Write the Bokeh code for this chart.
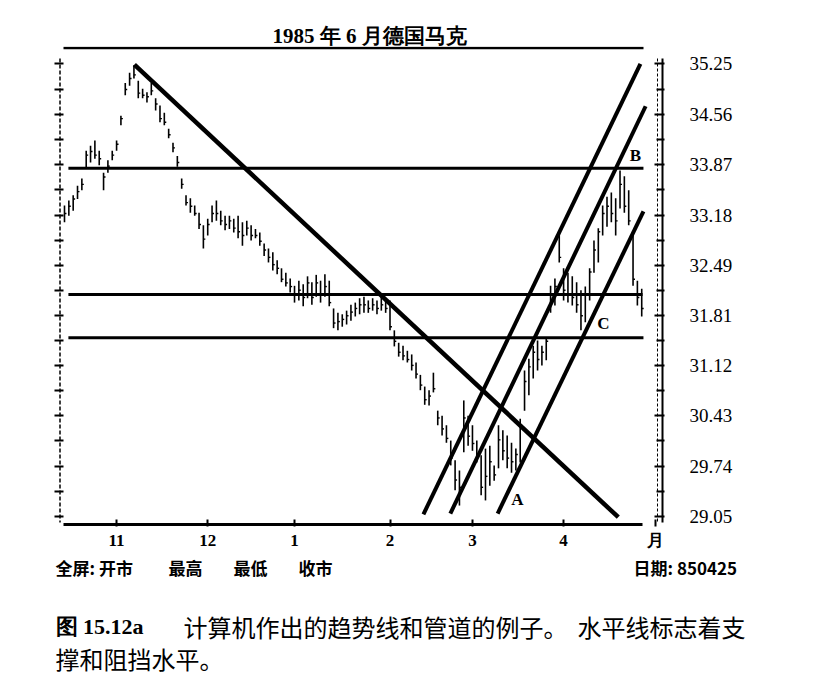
from bokeh.plotting import figure
from bokeh.models import Range1d, LinearAxis, FixedTicker
from bokeh.embed import file_html
from bokeh.resources import INLINE
from bokeh.core.properties import value

# ---------------- data ----------------
highs = [
    33.31, 33.38, 33.45, 33.58, 33.68, 34.06, 34.13, 34.20, 34.06, 33.76,
    33.93, 34.06, 34.20, 34.54, 34.99, 35.13, 35.23, 35.02, 34.91, 34.86,
    34.99, 34.78, 34.68, 34.58, 34.36, 34.17, 33.99, 33.68, 33.45, 33.41,
    33.31, 33.21, 33.04, 33.13, 33.31, 33.38, 33.24, 33.17, 33.17, 33.13,
    33.17, 33.08, 33.10, 33.04, 32.99, 32.94, 32.79, 32.72, 32.67, 32.56,
    32.45, 32.39, 32.31, 32.21, 32.28, 32.23, 32.34, 32.26, 32.36, 32.28,
    32.37, 32.28, 31.90, 31.84, 31.82, 31.87, 31.95, 31.98, 32.04, 32.06,
    32.01, 32.04, 32.01, 32.06, 32.04, 32.01, 31.60, 31.43, 31.39, 31.32,
    31.27, 31.16, 30.99, 30.83, 30.78, 31.02, 30.50, 30.43, 30.30, 30.09,
    29.82, 29.68, 30.64, 30.43, 30.30, 30.09, 29.89, 29.98, 30.02, 29.75,
    30.30, 30.23, 30.16, 30.06, 29.98, 30.39, 31.05, 31.21, 31.39, 31.46,
    31.39, 31.49, 32.21, 32.31, 32.94, 32.45, 32.39, 32.34, 32.26, 32.15,
    32.20, 32.45, 32.83, 33.00, 33.31, 33.43, 33.49, 33.41, 33.79, 33.71,
    33.52, 32.94, 32.28, 32.17,
]
lows = [
    33.08, 33.17, 33.24, 33.40, 33.52, 33.82, 33.90, 33.95, 33.86, 33.52,
    33.76, 33.93, 34.06, 34.41, 34.82, 34.95, 35.05, 34.78, 34.78, 34.72,
    34.82, 34.61, 34.45, 34.41, 34.23, 34.04, 33.84, 33.54, 33.31, 33.21,
    33.17, 32.99, 32.72, 32.90, 33.08, 33.10, 33.04, 32.97, 32.99, 32.94,
    32.86, 32.76, 32.90, 32.83, 32.86, 32.76, 32.62, 32.53, 32.42, 32.37,
    32.26, 32.20, 32.12, 31.98, 32.01, 31.93, 32.04, 31.95, 32.06, 31.98,
    32.06, 31.93, 31.63, 31.60, 31.65, 31.68, 31.73, 31.79, 31.82, 31.84,
    31.84, 31.87, 31.82, 31.87, 31.84, 31.60, 31.38, 31.24, 31.19, 31.16,
    31.05, 30.94, 30.78, 30.58, 30.57, 30.75, 30.30, 30.16, 30.06, 29.75,
    29.41, 29.20, 29.93, 30.02, 29.95, 29.79, 29.34, 29.27, 29.47, 29.54,
    29.71, 29.82, 29.71, 29.65, 29.68, 29.79, 30.50, 30.71, 30.94, 31.05,
    31.12, 31.19, 31.84, 31.94, 32.53, 32.01, 31.98, 31.94, 31.84, 31.60,
    31.71, 32.01, 32.39, 32.53, 32.90, 33.02, 33.08, 32.90, 33.27, 33.21,
    33.04, 32.21, 31.94, 31.79,
]
closes = [
    33.20, 33.30, 33.40, 33.50, 33.60, 34.00, 34.05, 34.00, 33.95, 33.70,
    33.85, 34.00, 34.15, 34.50, 34.90, 35.05, 35.10, 34.85, 34.82, 34.80,
    34.88, 34.70, 34.50, 34.45, 34.28, 34.10, 33.90, 33.60, 33.35, 33.30,
    33.20, 33.05, 32.85, 33.05, 33.20, 33.20, 33.10, 33.05, 33.10, 33.00,
    32.95, 32.90, 33.00, 32.90, 32.90, 32.82, 32.70, 32.60, 32.50, 32.45,
    32.30, 32.25, 32.20, 32.10, 32.15, 32.05, 32.25, 32.05, 32.25, 32.10,
    32.20, 31.98, 31.70, 31.72, 31.75, 31.80, 31.85, 31.90, 31.95, 31.95,
    31.90, 31.95, 31.90, 31.95, 31.90, 31.65, 31.45, 31.30, 31.25, 31.20,
    31.12, 31.00, 30.85, 30.65, 30.70, 30.80, 30.40, 30.25, 30.12, 29.85,
    29.55, 29.45, 30.40, 30.15, 30.05, 29.90, 29.45, 29.60, 29.80, 29.62,
    30.10, 29.95, 29.85, 29.80, 29.90, 30.30, 30.90, 31.10, 31.30, 31.20,
    31.30, 31.45, 32.00, 32.20, 32.60, 32.15, 32.10, 32.05, 31.95, 31.80,
    32.10, 32.40, 32.70, 32.95, 33.20, 33.30, 33.20, 33.10, 33.60, 33.30,
    33.10, 32.30, 32.05, 31.90,
]
n_bars = min(len(highs), len(lows), len(closes))
day_index = list(range(n_bars))

month_tick_index = [12, 33, 53, 75, 94, 115]
month_labels = ["11", "12", "1", "2", "3", "4"]
unit_label = "月"
price_ticks = [29.05, 29.74, 30.43, 31.12, 31.81, 32.49, 33.18, 33.87, 34.56, 35.25]
price_labels = ["29.05", "29.74", "30.43", "31.12", "31.81", "32.49", "33.18", "33.87", "34.56", "35.25"]

# support / resistance levels and trend lines (bar index / price)
levels = [33.82, 32.09, 31.50]
level_from = [0.9, 0.9, 0.9]
level_to = [133.4, 133.2, 133.4]
down_x = [16.1, 127.6]
down_y = [35.24, 29.04]
chan_x0 = [82.7, 88.9, 99.8]
chan_y0 = [29.08, 29.09, 29.09]
chan_x1 = [132.7, 133.9, 133.4]
chan_y1 = [35.25, 34.67, 33.23]

title_text = "1985 年 6 月德国马克"
footer_words = ["全屏: 开市", "最高", "最低", "收市"]
date_text = "日期: 850425"
caption_num = "图 15.12a"
caption_1a = "计算机作出的趋势线和管道的例子。"
caption_1b = "水平线标志着支"
caption_2 = "撑和阻挡水平。"

# ---------------- layout helpers (page pixels -> data) ----------------
PX0, PXD = 64.0, 4.34     # page x of bar 0, px per bar
PY0, PYD = 516.0, 73.0    # page y of 29.05, px per mark


def X(px):
    return (px - PX0) / PXD


def Y(py):
    return 29.05 + (PY0 - py) / PYD


W = 815
TOP_H = 46                      # title strip height
FL, FR, FT, FB = 58, 664, 46, 526
BOT_Y = 552                     # page y where the footer strip begins
MAIN_H = BOT_Y - TOP_H          # main figure height
BOT_H = 132                     # footer / caption strip height

SERIF = "Liberation Serif"
CJK = "Noto Sans CJK SC"


def strip(h):
    f = figure(width=W, height=h, x_range=Range1d(0, W), y_range=Range1d(h, 0),
               x_axis_type=None, y_axis_type=None, toolbar_location=None, output_backend="svg",
               min_border=0)
    f.outline_line_color = None
    f.background_fill_color = "white"
    f.border_fill_color = "white"
    return f


def txt(f, x, y, s, font, size, style="normal", align="left"):
    f.text(x=[x], y=[y], text=[s], text_font=value(font), text_font_size=value(size),
           text_font_style=style, text_align=align, text_baseline="middle", text_color="black")


# ---- title strip ----
top = strip(TOP_H)
txt(top, 369, 35, title_text, SERIF, "21px", "bold", "center")

# ---- main chart ----
p = figure(width=W, height=MAIN_H, x_range=Range1d(X(FL), X(FR)), y_range=Range1d(Y(FB), Y(FT)),
           x_axis_type=None, y_axis_type=None, toolbar_location=None, output_backend="svg",
           min_border_left=FL, min_border_right=W - FR,
           min_border_top=0, min_border_bottom=MAIN_H - (FB - TOP_H))
p.outline_line_color = None
p.background_fill_color = "white"
p.border_fill_color = "white"

half_ticks = [(a + b) / 2 for a, b in zip(price_ticks[:-1], price_ticks[1:])]

ra = LinearAxis(ticker=FixedTicker(ticks=price_ticks, minor_ticks=half_ticks))
ra.major_label_overrides = {t: s for t, s in zip(price_ticks, price_labels)}
ra.axis_line_color = None
ra.major_tick_in, ra.major_tick_out = 10, 0
ra.minor_tick_in, ra.minor_tick_out = 8, 0
ra.major_tick_line_width = 2
ra.minor_tick_line_width = 2
ra.major_tick_line_color = "black"
ra.minor_tick_line_color = "black"
ra.major_label_standoff = 25
ra.major_label_text_font = SERIF
ra.major_label_text_font_size = "19px"
ra.major_label_text_color = "black"
p.add_layout(ra, "right")

la = LinearAxis(ticker=FixedTicker(ticks=price_ticks, minor_ticks=half_ticks))
la.major_label_overrides = {t: "" for t in price_ticks}
la.axis_line_color = None
la.major_tick_in, la.major_tick_out = 5, 4
la.minor_tick_in, la.minor_tick_out = 5, 4
la.major_tick_line_width = 2
la.minor_tick_line_width = 2
la.major_tick_line_color = "black"
la.minor_tick_line_color = "black"
p.add_layout(la, "left")

unit_pos = X(655)
ba = LinearAxis(ticker=FixedTicker(ticks=month_tick_index + [unit_pos], minor_ticks=[]))
ba.major_label_overrides = {t: s for t, s in zip(month_tick_index + [unit_pos], month_labels + [unit_label])}
ba.axis_line_color = None
ba.major_tick_in, ba.major_tick_out = 7, 0
ba.major_tick_line_width = 2
ba.major_tick_line_color = "black"
ba.major_label_standoff = 4
ba.major_label_text_font = SERIF
ba.major_label_text_font_style = "bold"
ba.major_label_text_font_size = "17px"
ba.major_label_text_color = "black"
p.add_layout(ba, "below")

# frame decoration lines (page-pixel placement)
p.segment(x0=[X(59.5)], y0=[Y(58)], x1=[X(59.5)], y1=[Y(522)], line_color="black",
          line_width=1.5, line_dash="4 2")
p.segment(x0=[X(662)], y0=[Y(58)], x1=[X(662)], y1=[Y(522)], line_color="black", line_width=2)
p.segment(x0=[X(657)], y0=[Y(58)], x1=[X(657)], y1=[Y(522)], line_color="black",
          line_width=1, line_dash="3 2")
p.segment(x0=[X(63)], y0=[Y(524)], x1=[X(642)], y1=[Y(524)], line_color="black", line_width=3)
p.segment(x0=[X(63)], y0=[Y(47.5)], x1=[X(643)], y1=[Y(47.5)], line_color="black", line_width=2.5)

# OHLC bars
bx = day_index
p.segment(x0=bx, y0=lows[:n_bars], x1=bx, y1=highs[:n_bars], line_color="black", line_width=1.6)
p.segment(x0=bx, y0=closes[:n_bars], x1=[i + 0.45 for i in bx], y1=closes[:n_bars],
          line_color="black", line_width=1.4)

# horizontal support / resistance lines
p.segment(x0=level_from, y0=levels, x1=level_to, y1=levels, line_color="black", line_width=3)
# down trend line
p.segment(x0=[down_x[0]], y0=[down_y[0]], x1=[down_x[1]], y1=[down_y[1]],
          line_color="black", line_width=4.5)
# up channel lines
p.segment(x0=chan_x0, y0=chan_y0, x1=chan_x1, y1=chan_y1, line_color="black", line_width=4)

# point labels
p.text(x=[X(635), X(603), X(517)], y=[Y(155), Y(323), Y(499)], text=["B", "C", "A"],
       text_font=value(SERIF), text_font_size=value("17px"), text_font_style="bold",
       text_align="center", text_baseline="middle", text_color="black")

# ---- footer / caption strip ----
bot = strip(BOT_H)
oy = BOT_Y
for xw, w in zip([55, 168, 233, 298], footer_words):
    txt(bot, xw, 567 - oy, w, CJK, "17px", "bold")
txt(bot, 633, 567 - oy, date_text, CJK, "17px", "bold")
txt(bot, 55, 626 - oy, caption_num, SERIF, "22px", "bold")
txt(bot, 183, 626 - oy, caption_1a, CJK, "24px")
txt(bot, 745, 626 - oy, caption_1b, CJK, "24px", align="right")
txt(bot, 55, 658 - oy, caption_2, CJK, "24px")

# three independent roots stacked in page order (no frame alignment between them)
open("out.html", "w").write(file_html([top, p, bot], INLINE))
